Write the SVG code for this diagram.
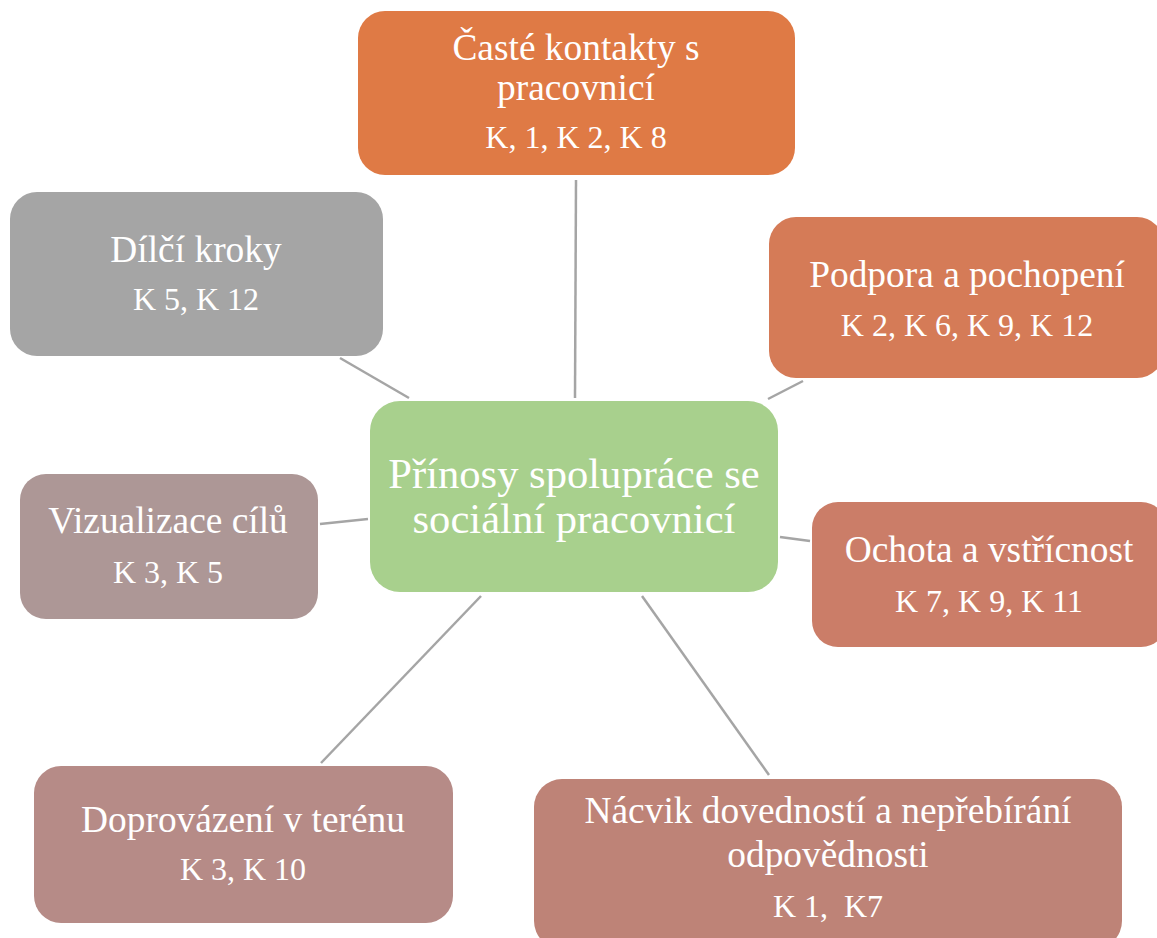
<svg xmlns="http://www.w3.org/2000/svg" width="1157" height="938" viewBox="0 0 1157 938">
<style>
text{font-family:"Liberation Serif","Times New Roman",serif;fill:#fff;text-anchor:middle}
.t{font-size:37.4px}
.c{font-size:32px}
.m{font-size:42.6px}
.ln{stroke:#a5a5a5;stroke-width:2.5;fill:none}
</style>
<rect width="1157" height="938" fill="#fff"/>
<g id="connectors">
<line class="ln" x1="576" y1="180" x2="575" y2="398"/>
<line class="ln" x1="768" y1="399" x2="803" y2="381"/>
<line class="ln" x1="780" y1="537" x2="810" y2="541"/>
<line class="ln" x1="642" y1="596" x2="769" y2="775"/>
<line class="ln" x1="481" y1="596" x2="321" y2="763"/>
<line class="ln" x1="320" y1="524" x2="368" y2="519"/>
<line class="ln" x1="340" y1="358" x2="409" y2="398"/>
</g>
<g id="center">
<rect x="370" y="401" width="408" height="191" rx="30" fill="#a8d08d"/>
<text class="m" x="574" y="488">Přínosy spolupráce se</text>
<text class="m" x="574" y="533">sociální pracovnicí</text>
</g>
<g id="caste">
<rect x="358" y="11" width="437" height="164" rx="27" fill="#df7a45"/>
<text class="t" x="576" y="60">Časté kontakty s</text>
<text class="t" x="576" y="100">pracovnicí</text>
<text class="c" x="576" y="148">K, 1, K 2, K 8</text>
</g>
<g id="podpora">
<rect x="769" y="217" width="395" height="161" rx="27" fill="#d57b57"/>
<text class="t" x="967" y="287">Podpora a pochopení</text>
<text class="c" x="967" y="336">K 2, K 6, K 9, K 12</text>
</g>
<g id="ochota">
<rect x="812" y="502" width="355" height="145" rx="26" fill="#cb7d68"/>
<text class="t" x="989" y="562">Ochota a vstřícnost</text>
<text class="c" x="989" y="612">K 7, K 9, K 11</text>
</g>
<g id="nacvik">
<rect x="534" y="779" width="588" height="170" rx="28" fill="#be8377"/>
<text class="t" x="828" y="823">Nácvik dovedností a nepřebírání</text>
<text class="t" x="828" y="867">odpovědnosti</text>
<text class="c" x="828" y="917">K 1,&#160; K7</text>
</g>
<g id="doprovazeni">
<rect x="34" y="766" width="419" height="157" rx="27" fill="#b68b87"/>
<text class="t" x="243" y="832">Doprovázení v terénu</text>
<text class="c" x="243" y="880">K 3, K 10</text>
</g>
<g id="vizualizace">
<rect x="20" y="474" width="298" height="145" rx="26" fill="#ad9796"/>
<text class="t" x="168" y="533">Vizualizace cílů</text>
<text class="c" x="168" y="583">K 3, K 5</text>
</g>
<g id="dilci">
<rect x="10" y="192" width="373" height="164" rx="27" fill="#a5a5a5"/>
<text class="t" x="196" y="262">Dílčí kroky</text>
<text class="c" x="196" y="310">K 5, K 12</text>
</g>
</svg>
